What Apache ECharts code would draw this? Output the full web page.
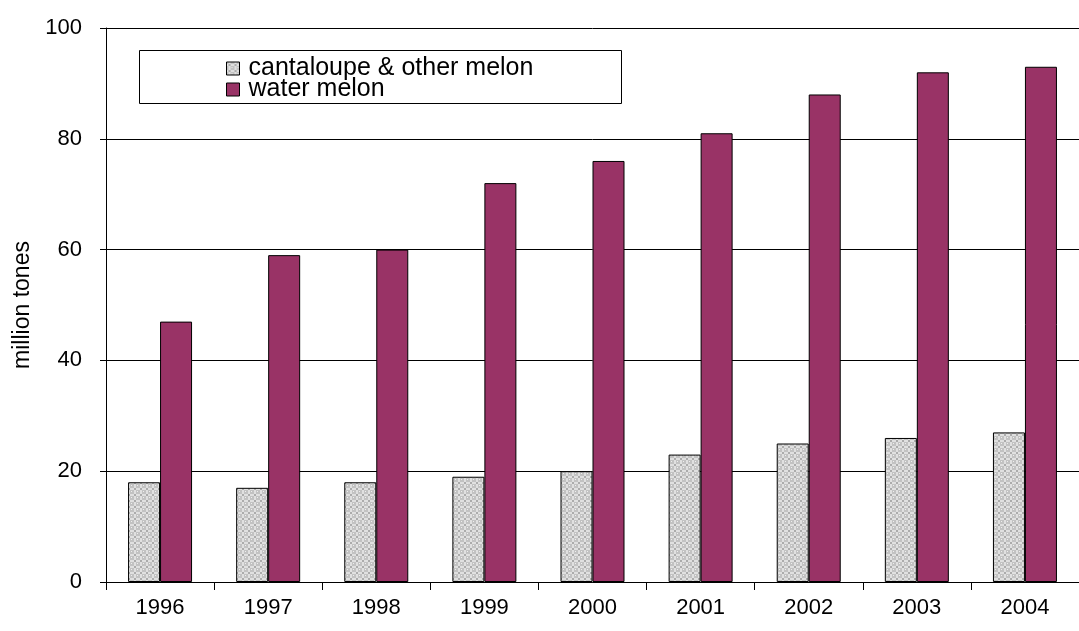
<!DOCTYPE html>
<html>
<head>
<meta charset="utf-8">
<script src="https://cdn.jsdelivr.net/npm/echarts@6/dist/echarts.min.js"></script>
<style>
  html, body { margin: 0; padding: 0; background: #fff; }
  #chart { width: 1079px; height: 631px; }
</style>
</head>
<body>
<div id="chart"></div>
<script>
// Melon production, million tones per year
const years = ['1996', '1997', '1998', '1999', '2000', '2001', '2002', '2003', '2004'];
const cantaloupe = [18, 17, 18, 19, 20, 23, 25, 26, 27];
const waterMelon = [47, 59, 60, 72, 76, 81, 88, 92, 93];
const seriesNames = ['cantaloupe & other melon', 'water melon'];

// Small lattice tile used as the fill for the cantaloupe bars
function makeHatch() {
  const c = document.createElement('canvas');
  c.width = 6; c.height = 6;
  const g = c.getContext('2d');
  g.fillStyle = '#c2c2c2';
  g.fillRect(0, 0, 6, 6);
  g.fillStyle = '#e0e0e0';
  g.fillRect(2, 0, 2, 6);
  g.fillRect(0, 2, 6, 2);
  g.fillStyle = '#ababab';
  g.fillRect(2, 2, 2, 2);
  g.fillStyle = '#eeeeee';
  g.fillRect(5, 5, 1, 1);
  return c;
}
const hatch = { image: makeHatch(), repeat: 'repeat' };

const font = 'Liberation Sans, Arial, sans-serif';
const chart = echarts.init(document.getElementById('chart'));
chart.setOption({
  animation: false,
  textStyle: { fontFamily: font },
  grid: { left: 106, right: 0, top: 28, bottom: 49, containLabel: false, outerBoundsMode: 'none' },
  graphic: [{
    type: 'rect',
    shape: { x: 139.5, y: 50.5, width: 482, height: 53 },
    style: { fill: '#fff', stroke: '#000', lineWidth: 1 },
    z: 10
  }],
  legend: {
    orient: 'vertical',
    left: 226,
    top: 56,
    z: 20,
    icon: 'rect',
    itemWidth: 13,
    itemHeight: 13,
    itemGap: -4,
    padding: 0,
    data: seriesNames,
    itemStyle: { borderColor: '#000', borderWidth: 1 },
    textStyle: { fontSize: 25, color: '#000', fontFamily: font, padding: [0, 0, 0, 4] }
  },
  xAxis: {
    type: 'category',
    data: years,
    axisLine: { lineStyle: { color: '#000', width: 1 } },
    axisTick: { show: true, length: 8, lineStyle: { color: '#000' } },
    axisLabel: { fontSize: 22, color: '#000', margin: 15, fontFamily: font },
    splitLine: { show: false }
  },
  yAxis: {
    type: 'value',
    min: 0,
    max: 100,
    interval: 20,
    name: 'million tones',
    nameLocation: 'middle',
    nameGap: 72,
    nameTextStyle: { fontSize: 23, color: '#000', fontFamily: font },
    axisLine: { show: true, lineStyle: { color: '#000', width: 1 } },
    axisTick: { show: true, length: 6, lineStyle: { color: '#000' } },
    axisLabel: { fontSize: 22, color: '#000', margin: 24, fontFamily: font },
    splitLine: { show: true, lineStyle: { color: '#000', width: 1 } }
  },
  series: [
    {
      name: seriesNames[0],
      type: 'bar',
      data: cantaloupe,
      barWidth: 32,
      barGap: '0%',
      itemStyle: { color: hatch, borderColor: '#000', borderWidth: 1 }
    },
    {
      name: seriesNames[1],
      type: 'bar',
      data: waterMelon,
      barWidth: 32,
      barGap: '0%',
      itemStyle: { color: '#993366', borderColor: '#000', borderWidth: 1 }
    }
  ]
});
</script>
</body>
</html>
